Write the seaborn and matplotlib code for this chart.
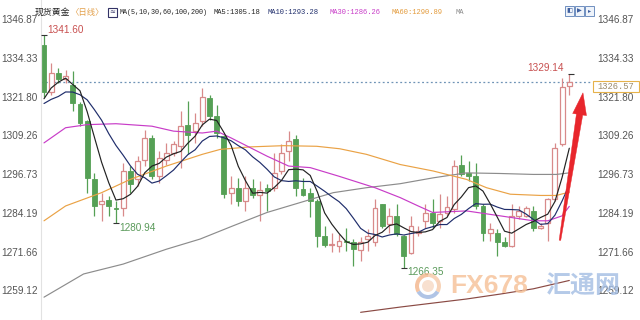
import numpy as np
import pandas as pd
import matplotlib
matplotlib.use("Agg")
import matplotlib.pyplot as plt
import seaborn as sns
from matplotlib.patches import Rectangle, Polygon, Wedge, Circle
from matplotlib.transforms import IdentityTransform

sns.set_style("white")
plt.rcParams['font.family'] = ['Liberation Sans', 'Noto Sans CJK SC', 'DejaVu Sans']

# ---------------- data (daily OHLC) ----------------
opens = [1338.5, 1323.4, 1329.4, 1327.4, 1325.6, 1319.5, 1313.8, 1295.0, 1286.9, 1288.3,
         1285.9, 1285.9, 1297.7, 1295.0, 1301.4, 1308.4, 1296.1, 1301.4, 1303.6, 1305.7,
         1312.7, 1310.6, 1313.8, 1321.3, 1315.6, 1309.0, 1290.7, 1292.3, 1288.0, 1292.3,
         1290.1, 1292.3, 1292.3, 1297.7, 1304.1, 1307.9, 1291.8, 1290.7, 1288.0, 1276.7,
         1273.7, 1273.5, 1275.1, 1274.6, 1272.0, 1275.7, 1274.6, 1286.9, 1280.5, 1283.2,
         1276.7, 1271.3, 1277.8, 1281.6, 1284.2, 1281.6, 1284.2, 1285.3, 1299.8, 1297.1,
         1296.0, 1286.4, 1277.8, 1277.8, 1274.6, 1273.5, 1283.2, 1283.2, 1284.8, 1279.4,
         1281.0, 1288.6, 1306.3, 1325.1]
highs = [1341.60, 1332.6, 1331.0, 1330.4, 1329.9, 1320.0, 1314.2, 1297.1, 1290.7, 1289.6,
         1288.0, 1300.4, 1299.3, 1302.5, 1311.1, 1309.5, 1304.1, 1306.8, 1307.3, 1317.0,
         1320.2, 1316.5, 1324.5, 1322.4, 1319.2, 1309.5, 1296.1, 1295.5, 1296.1, 1295.0,
         1294.5, 1293.4, 1303.6, 1306.3, 1310.6, 1309.5, 1295.5, 1292.3, 1288.6, 1280.0,
         1277.8, 1277.3, 1279.4, 1275.6, 1276.2, 1278.9, 1288.6, 1287.0, 1285.9, 1286.9,
         1277.0, 1283.2, 1279.9, 1286.9, 1288.6, 1290.2, 1289.6, 1301.4, 1303.0, 1300.9,
         1300.2, 1286.9, 1281.0, 1278.9, 1276.2, 1286.9, 1286.4, 1286.4, 1286.4, 1281.0,
         1289.1, 1306.8, 1327.8, 1329.14]
lows = [1321.8, 1322.4, 1326.1, 1326.1, 1317.0, 1312.4, 1290.7, 1283.2, 1281.6, 1283.2,
        1280.94, 1283.2, 1290.7, 1292.8, 1299.3, 1295.0, 1293.9, 1299.8, 1302.5, 1298.8,
        1303.1, 1306.8, 1312.2, 1314.3, 1308.4, 1289.1, 1286.9, 1286.4, 1284.8, 1289.1,
        1281.6, 1284.8, 1291.2, 1296.6, 1300.9, 1289.6, 1289.6, 1282.7, 1273.0, 1273.0,
        1271.4, 1271.4, 1271.9, 1267.0, 1268.7, 1271.9, 1273.5, 1279.4, 1277.8, 1276.7,
        1266.35, 1270.8, 1276.7, 1279.4, 1279.4, 1279.4, 1283.2, 1284.2, 1296.1, 1294.4,
        1285.3, 1275.2, 1275.1, 1270.3, 1273.0, 1273.0, 1282.1, 1282.7, 1278.3, 1278.9,
        1275.1, 1288.0, 1305.7, 1322.4]
closes = [1323.4, 1329.4, 1327.4, 1328.5, 1319.7, 1313.3, 1295.5, 1286.4, 1287.9, 1286.4,
          1285.3, 1297.7, 1293.4, 1300.9, 1308.4, 1296.1, 1302.0, 1303.6, 1306.3, 1312.2,
          1309.5, 1313.3, 1321.8, 1315.6, 1310.0, 1290.2, 1292.3, 1288.0, 1292.3, 1289.8,
          1291.5, 1291.2, 1297.1, 1303.6, 1307.3, 1292.3, 1290.1, 1288.0, 1276.7, 1273.7,
          1274.0, 1275.1, 1274.6, 1272.4, 1274.6, 1276.7, 1285.9, 1279.9, 1283.2, 1277.3,
          1270.3, 1279.9, 1278.4, 1284.2, 1281.0, 1283.7, 1286.0, 1299.3, 1296.6, 1296.0,
          1286.4, 1277.8, 1278.9, 1274.6, 1273.5, 1283.2, 1284.8, 1285.9, 1279.4, 1280.0,
          1288.6, 1305.2, 1325.0, 1326.57]
prev_closes = [1316.0, 1318.0, 1314.0, 1320.0, 1322.0, 1312.0, 1318.0, 1322.0, 1330.0]

# long moving averages (candle index, value)
ma30_idx = [0, 3, 6, 10, 15, 18, 22, 24, 26, 31, 34, 37, 41, 46, 49.5, 52, 54, 58.7, 63.4, 68, 70, 72, 73]
ma30_val = [1306.8, 1311.7, 1312.7, 1313.0, 1312.2, 1310.6, 1310.0, 1310.6, 1308.4, 1302.5, 1299.3,
            1298.8, 1296.0, 1292.3, 1289.1, 1286.4, 1284.3, 1284.8, 1283.2, 1281.6, 1281.6, 1283.2, 1286.26]
ma60_idx = [0, 3, 8, 12, 17, 22, 24.5, 28.6, 33.3, 37.9, 41.1, 44.8, 49.5, 54.1, 58.7, 61.5, 64.8, 69, 71.2, 73]
ma60_val = [1281.6, 1286.4, 1290.7, 1295.0, 1299.3, 1303.1, 1304.7, 1305.5, 1305.9, 1305.7, 1304.9,
            1303.1, 1299.8, 1297.7, 1295.0, 1292.3, 1290.2, 1289.8, 1289.8, 1290.89]
ma100_idx = [0, 5.5, 11, 17, 21.7, 26.3, 31, 35.6, 40.2, 44.8, 49.5, 54.1, 58.7, 63.4, 68, 71.2, 73]
ma100_val = [1256.9, 1264.4, 1267.6, 1272.4, 1275.7, 1280.0, 1284.3, 1287.5, 1290.7, 1292.3,
             1293.6, 1295.5, 1297.1, 1296.9, 1296.6, 1296.6, 1297.1]
ma200_idx = [44, 49.5, 58.7, 63.4, 68, 73]
ma200_val = [1252.0, 1253.7, 1256.3, 1257.9, 1259.6, 1262.3]

y_ticks = [1259.12, 1271.66, 1284.19, 1296.73, 1309.26, 1321.80, 1334.33, 1346.87]
last_price = 1326.57
legend_title = "现货黄金"
legend_period = "〈日线〉"
legend_ma = "MA(5,10,30,60,100,200)"
legend_items = [("MA5:1305.18", "#222222"), ("MA10:1293.28", "#1f2d6b"),
                ("MA30:1286.26", "#c83cc8"), ("MA60:1290.89", "#e39a3a"), ("MA", "#888888")]
arrow_start = (71.7, 1275.3)
arrow_tip = (74.9, 1323.0)

# ---------------- derived ----------------
n = len(closes)
idx = np.arange(n)
all_c = pd.Series(prev_closes + closes)
ma5 = all_c.rolling(5).mean().to_numpy()[-n:]
ma10 = all_c.rolling(10).mean().to_numpy()[-n:]

W, H = 640, 320
fig = plt.figure(figsize=(6.4, 3.2), dpi=100)
ax_left_px, ax_right_px = 41, 591
ax = fig.add_axes([ax_left_px / W, 0, (ax_right_px - ax_left_px) / W, 1])
px_per_idx = (569.3 - 44) / (n - 1)
ax.set_xlim(-(44 - ax_left_px) / px_per_idx, (n - 1) + (ax_right_px - 569.3) / px_per_idx)
ppx = (1346.87 - 1259.12) / (290.3 - 19)
ymax = 1346.87 + 19 * ppx
ymin = 1346.87 - (H - 19) * ppx
ax.set_ylim(ymin, ymax)

GREEN = "#55a055"
RED = "#d88a8a"
o = np.array(opens); c = np.array(closes); hi = np.array(highs); lo = np.array(lows)
up = c >= o
cols = np.where(up, RED, GREEN)
ax.vlines(idx, lo, hi, colors=cols, linewidth=0.9, zorder=2)
body_lo = np.minimum(o, c)
body_h = np.maximum(np.abs(c - o), 0.35)
ax.bar(idx[up], body_h[up], bottom=body_lo[up], width=0.68, color="white",
       edgecolor=RED, linewidth=0.9, zorder=3)
ax.bar(idx[~up], body_h[~up], bottom=body_lo[~up], width=0.68, color=GREEN,
       edgecolor=GREEN, linewidth=0.6, zorder=3)

# moving averages
line_kw = dict(linewidth=0.85, zorder=4, legend=False, ax=ax)
sns.lineplot(x=ma200_idx, y=ma200_val, color="#8a4a44", **line_kw)
sns.lineplot(x=ma100_idx, y=ma100_val, color="#8c8c8c", **line_kw)
sns.lineplot(x=ma60_idx, y=ma60_val, color="#eaa245", **line_kw)
sns.lineplot(x=ma30_idx, y=ma30_val, color="#c83cc8", **line_kw)
sns.lineplot(x=idx, y=ma10, color="#1f2d6b", **line_kw)
sns.lineplot(x=idx, y=ma5, color="#222222", **line_kw)

# last price dotted line
ax.axhline(last_price, color="#6f93b6", linestyle=(0, (1.5, 2)), linewidth=0.9, zorder=1)

# axes cosmetics
for s in ["top", "right", "bottom"]:
    ax.spines[s].set_visible(False)
ax.spines["left"].set_color("#e2e2e2")
ax.spines["left"].set_linewidth(0.8)
ax.set_xticks([])
ax.set_yticks(y_ticks)
ax.set_yticklabels([f"{v:.2f}" for v in y_ticks])
ax.tick_params(axis="y", length=0, pad=2.3, labelsize=7.2, labelcolor="#555555")
ax.set_xlabel(""); ax.set_ylabel("")
ax2 = ax.twinx()
ax2.set_ylim(ymin, ymax)
ax2.set_yticks(y_ticks)
ax2.set_yticklabels([f"{v:.2f}" for v in y_ticks])
ax2.tick_params(axis="y", length=0, pad=4.5, labelsize=7.2, labelcolor="#555555")
for s in ax2.spines.values():
    s.set_visible(False)

# extreme markers and labels
i_hi = int(np.argmax(hi)); i_lo = int(np.argmin(lo))
i_lo2 = 10
for i, v in [(i_hi, hi[i_hi]), (i_lo, lo[i_lo]), (i_lo2, lo[i_lo2])]:
    ax.hlines(v, i - 0.45, i + 0.45, colors="#333333", linewidth=0.8, zorder=5)
ax.hlines(hi[n - 1], n - 1 - 0.2, n - 1 + 0.6, colors="#333333", linewidth=0.8, zorder=5)
ax.annotate(f"{hi[i_hi]:.2f}", (i_hi, hi[i_hi]), xytext=(2.3, 3.8), textcoords="offset points",
            ha="left", va="center", fontsize=7.2, color="#c85050")
ax.annotate(f"{lo[i_lo2]:.2f}", (i_lo2, lo[i_lo2]), xytext=(2.3, -3.6), textcoords="offset points",
            ha="left", va="center", fontsize=7.2, color="#5a9a5a")
ax.annotate(f"{lo[i_lo]:.2f}", (i_lo, lo[i_lo]), xytext=(2.3, -3.0), textcoords="offset points",
            ha="left", va="center", fontsize=7.2, color="#5a9a5a")
ax.annotate(f"{hi[n-1]:.2f}", (n - 1, hi[n - 1]), xytext=(-4.3, 4.3), textcoords="offset points",
            ha="right", va="center", fontsize=7.2, color="#c85050")

# price box at right
fig.patches.append(Rectangle((593 / W, 1 - 92 / H), 46 / W, 11 / H, transform=fig.transFigure,
                             facecolor="white", edgecolor="#e6b24a", linewidth=0.8, zorder=6))
fig.text(616 / W, 1 - 86.5 / H, f"{last_price:.2f}", ha="center", va="center", fontsize=6.3,
         family="Liberation Mono", color="#9a8a6a", zorder=7)

# red arrow (tapered)
fig.canvas.draw()
S = ax.transData.transform(arrow_start)
T = ax.transData.transform(arrow_tip)
d = (T - S) / np.linalg.norm(T - S)
nrm = np.array([-d[1], d[0]])
B = T - d * 22
pts = [S + nrm * 0.8, B + nrm * 3.2, B + nrm * 7, T, B - nrm * 7, B - nrm * 3.2, S - nrm * 0.8]
ax.add_patch(Polygon(pts, closed=True, transform=IdentityTransform(), facecolor="#e8262c",
                     edgecolor="#e8262c", linewidth=0.3, zorder=8, clip_on=False))

# legend header
ty = 1 - 12 / H
fig.text(35 / W, ty, legend_title, ha="left", va="center", fontsize=6.4,
         family=["Noto Sans CJK SC"], color="#222222")
fig.text(70 / W, ty, legend_period, ha="left", va="center", fontsize=6.0,
         family=["Noto Sans CJK SC"], color="#e3a04a")
fig.patches.append(Rectangle((108 / W, 1 - 16.5 / H), 9 / W, 9 / H, transform=fig.transFigure,
                             facecolor="white", edgecolor="#333366", linewidth=0.8))
fig.text(112.5 / W, 1 - 12 / H, "≈", ha="center", va="center", fontsize=5, color="#333366",
         family="DejaVu Sans")
fig.text(120 / W, ty, legend_ma, ha="left", va="center", fontsize=4.85,
         family="Liberation Mono", color="#222222")
for (txt, col), xp in zip(legend_items, [214, 268, 330, 392, 456]):
    fig.text(xp / W, ty, txt, ha="left", va="center", fontsize=5.1,
             family="Liberation Mono", color=col)

# toolbar icons (top right)
for k, xp in enumerate([565, 575, 585]):
    fig.patches.append(Rectangle((xp / W, 1 - 16 / H), 9 / W, 10 / H, transform=fig.transFigure,
                                 facecolor="#eef3fa", edgecolor="#6f8fc0", linewidth=0.7))
    fig.text((xp + 4.5) / W, 1 - 11 / H, ["◧", "▶", "▸"][k], ha="center", va="center",
             fontsize=4.5, color="#3f5f9f", family="DejaVu Sans")

# watermark
cx, cy = 428, H - 286
for (t1, t2, colr) in [(90, 210, "#f3b48a"), (210, 330, "#9db6df"), (330, 450, "#f6c9a6")]:
    fig.patches.append(Wedge((cx, cy), 13, t1, t2, width=4, transform=IdentityTransform(),
                             facecolor=colr, edgecolor="none", alpha=0.8, zorder=9))
fig.patches.append(Circle((cx, cy), 6, transform=IdentityTransform(), facecolor="#f7d9c4",
                          edgecolor="none", alpha=0.8, zorder=9))
fig.text(489 / W, 1 - 286 / H, "FX678", ha="center", va="center", fontsize=19, fontweight="bold",
         color="#f6c49c", alpha=0.85, zorder=9)
fig.text(583 / W, 1 - 286 / H, "汇通网", ha="center", va="center", fontsize=18, fontweight="bold",
         family=["Noto Sans CJK SC"], color="#a3bde3", alpha=0.8, zorder=9)

fig.savefig("out.png", dpi=100, facecolor="white")
